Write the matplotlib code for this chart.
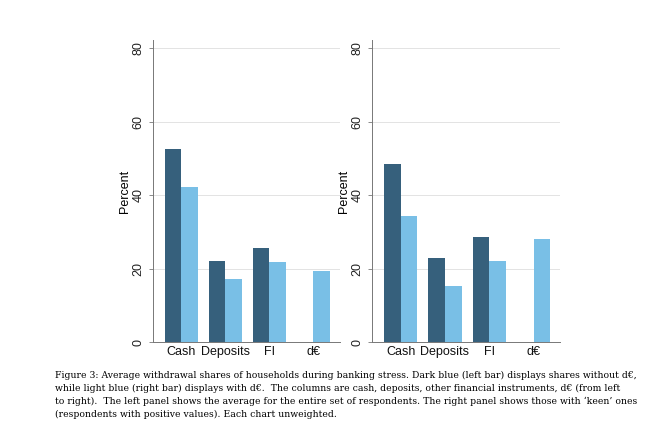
import matplotlib.pyplot as plt
import numpy as np

categories = ["Cash", "Deposits", "FI", "d€"]
# left panel: all respondents
all_without = [52.7, 22.0, 25.7, np.nan]
all_with = [42.3, 17.1, 21.9, 19.4]
# right panel: 'keen' respondents
keen_without = [48.6, 22.8, 28.7, np.nan]
keen_with = [34.3, 15.4, 22.2, 28.1]
yticks = [0, 20, 40, 60, 80]

dark = '#36607c'
light = '#79bfe6'

caption = ("Figure 3: Average withdrawal shares of households during banking stress. Dark blue (left bar) displays shares without d€,\n"
           "while light blue (right bar) displays with d€.  The columns are cash, deposits, other financial instruments, d€ (from left\n"
           "to right).  The left panel shows the average for the entire set of respondents. The right panel shows those with ‘keen’ ones\n"
           "(respondents with positive values). Each chart unweighted.")

plt.rcParams['font.family'] = ['Liberation Sans', 'DejaVu Sans']

fig = plt.figure(figsize=(6.7, 4.25), dpi=100)
ax1 = fig.add_axes([0.228, 0.195, 0.279, 0.711])
ax2 = fig.add_axes([0.555, 0.195, 0.281, 0.711])

x = np.arange(len(categories))
w = 0.375

for ax, wo, wi in [(ax1, all_without, all_with), (ax2, keen_without, keen_with)]:
    ax.bar(x - w/2, wo, width=w, color=dark, zorder=2)
    ax.bar(x + w/2, wi, width=w, color=light, zorder=2)
    ax.set_xlim(-0.65, 3.6)
    ax.set_ylim(0, 82.3)
    ax.set_yticks(yticks)
    ax.set_yticklabels([str(t) for t in yticks], rotation=90, va='center', fontsize=9, color='#222222')
    ax.set_xticks(x)
    ax.set_xticklabels(categories, fontsize=9, color='#111111')
    ax.tick_params(axis='x', length=0, pad=3)
    ax.tick_params(axis='y', length=3, width=0.6, color='#777777', pad=3)
    ax.grid(axis='y', color='#e3e3e3', linewidth=0.7, zorder=0)
    for s in ['top', 'right']:
        ax.spines[s].set_visible(False)
    for s in ['left', 'bottom']:
        ax.spines[s].set_color('#777777')
        ax.spines[s].set_linewidth(0.7)
    ax.set_ylabel("Percent", fontsize=9)
    ax.yaxis.set_label_coords(-0.118, 0.5)

fig.text(0.082, 0.128, caption, fontsize=6.65, family='DejaVu Serif', va='top', ha='left',
         linespacing=1.55)

fig.savefig('out.png', dpi=100)
